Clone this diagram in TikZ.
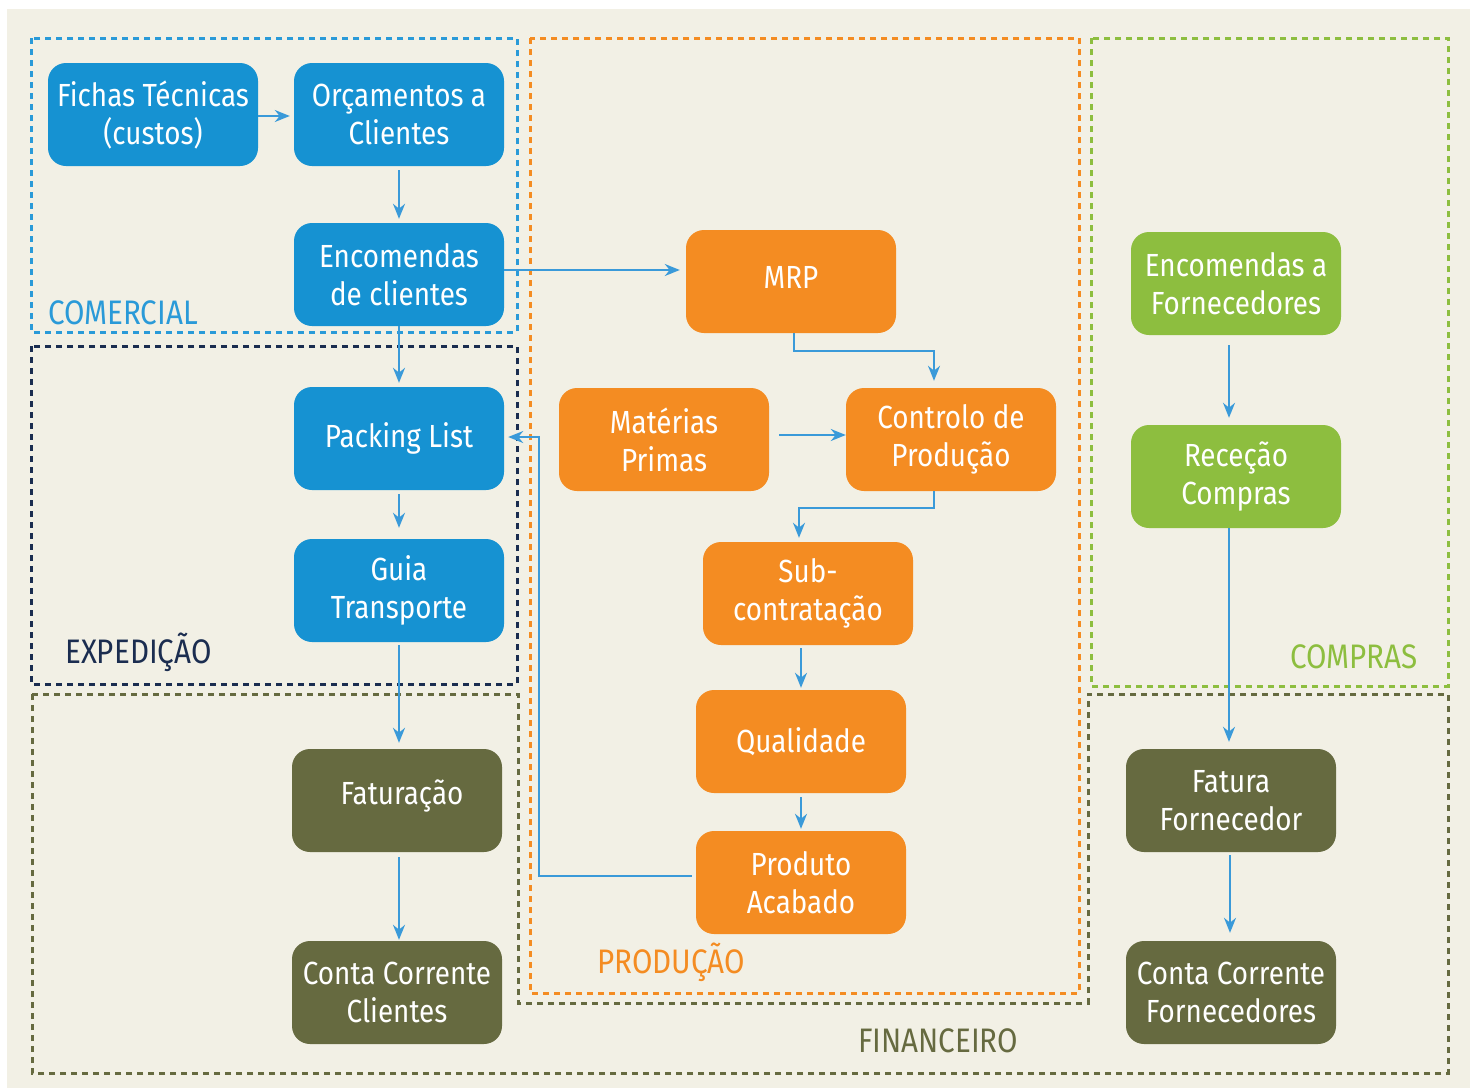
\documentclass[tikz,border=0pt]{standalone}
\usepackage{fontspec}
\setmainfont{Fira Sans}[FakeStretch=0.87]
\usetikzlibrary{arrows.meta}
\definecolor{bgc}{RGB}{242,240,229}
\definecolor{cblue}{RGB}{22,146,210}
\definecolor{corange}{RGB}{244,140,34}
\definecolor{cgreen}{RGB}{141,190,63}
\definecolor{colive}{RGB}{102,106,64}
\definecolor{cnavy}{RGB}{27,45,80}
\definecolor{carrow}{RGB}{58,154,217}
\definecolor{cframe}{RGB}{42,154,216}
\tikzset{
  box/.style={rectangle, rounded corners=18pt, minimum width=210pt, minimum height=103pt,
    text=white, align=center, inner sep=0pt, font=\fontsize{32}{38}\selectfont},
  bbox/.style={box, fill=cblue},
  obox/.style={box, fill=corange},
  gbox/.style={box, fill=cgreen},
  fbox/.style={box, fill=colive},
  flow/.style={draw=carrow, line width=2pt, -{Stealth[length=15pt,width=12pt]}},
  region/.style={line width=3pt, dash pattern=on 6pt off 5pt},
  rlabel/.style={font=\fontsize{34}{40}\selectfont, inner sep=0pt}
}
\begin{document}
\begin{tikzpicture}[x=1pt,y=-1pt]
\useasboundingbox (0,0) rectangle (1477,1088);
\fill[white] (0,0) rectangle (1477,1088);
\fill[bgc] (7,9) rectangle (1470,1088);
% regions
\draw[region, cframe] (31,38) rectangle (517,332);
\draw[region, cnavy] (31,346) rectangle (517,684);
\draw[region, corange] (530,38) rectangle (1079,993);
\draw[region, cgreen] (1091,38) rectangle (1448,686);
\draw[region, colive] (32,694) -- (518,694) -- (518,1003) -- (1088,1003) -- (1088,694) -- (1448,694) -- (1448,1073) -- (32,1073) -- cycle;
\node[rlabel, text=cframe, anchor=base west] (lcom) at (48,324) {COMERCIAL};
\node[rlabel, text=cnavy, anchor=base west] (lexp) at (65,663) {EXPEDIÇÃO};
\node[rlabel, text=corange, anchor=base west] (lprod) at (597,973) {PRODUÇÃO};
\node[rlabel, text=cgreen, anchor=base east] (lcomp) at (1418,668) {COMPRAS};
\node[rlabel, text=colive, anchor=base west] (lfin) at (858,1052) {FINANCEIRO};
% boxes
\node[bbox] (fichas) at (153,114.5) {Fichas Técnicas\\(custos)};
\node[bbox] (orc) at (399,114.5) {Orçamentos a\\Clientes};
\node[bbox] (enc) at (399,274.5) {Encomendas\\de clientes};
\node[bbox] (pack) at (399,438.5) {Packing List};
\node[bbox] (guia) at (399,590.5) {Guia\\Transporte};
\node[fbox] (fat) at (397,800.5) {\raisebox{16pt}{\hspace{10pt}Faturação}};
\node[fbox] (ccc) at (397,992.5) {Conta Corrente\\Clientes};
\node[obox] (mrp) at (791,281.5) {\raisebox{8pt}{MRP}};
\node[obox] (mat) at (664,439.5) {Matérias\\Primas};
\node[obox] (ctrl) at (951,439.5) {Controlo de\\Produção};
\node[obox] (sub) at (808,593.5) {Sub-\\contratação};
\node[obox] (qual) at (801,741.5) {Qualidade};
\node[obox] (prod) at (801,882.5) {Produto\\Acabado};
\node[gbox] (encf) at (1236,283.5) {Encomendas a\\Fornecedores};
\node[gbox] (rec) at (1236,476.5) {Receção\\Compras};
\node[fbox] (fatf) at (1231,800.5) {Fatura\\Fornecedor};
\node[fbox] (ccf) at (1231,992.5) {Conta Corrente\\Fornecedores};
% connectors
\coordinate (pc) at (539,876);
\draw[flow] (fichas.east |- 0,116) -- ([xshift=-4pt]orc.west |- 0,116);
\draw[flow] ([yshift=-4pt]orc.south) -- ([yshift=4pt]enc.north);
\draw[flow] (enc.east |- 0,270) -- ([xshift=-6pt]mrp.west |- 0,270);
\draw[flow] (enc.south) -- ([yshift=4pt]pack.north);
\draw[flow] ([xshift=3pt]mrp.south) -- ++(0,18) -| ([xshift=-17pt,yshift=7pt]ctrl.north);
\draw[flow] ([xshift=10pt]mat.east |- 0,435) -- (ctrl.west |- 0,435);
\draw[flow] ([xshift=-17pt]ctrl.south) -- ++(0,17) -| ([xshift=-9pt,yshift=4pt]sub.north);
\draw[flow] ([xshift=-7pt,yshift=-3pt]sub.south) -- ([yshift=2pt]qual.north);
\draw[flow] ([yshift=-4pt]qual.south) -- ([yshift=2pt]prod.north);
\draw[flow] ([xshift=-4pt]prod.west |- pc) -- (pc) |- ([xshift=4pt]pack.east |- 0,437);
\draw[flow] ([yshift=-4pt]pack.south) -- ([yshift=11pt]guia.north);
\draw[flow] ([yshift=-3pt]guia.south) -- ([xshift=2pt,yshift=6pt]fat.north);
\draw[flow] ([xshift=2pt,yshift=-5pt]fat.south) -- ([xshift=2pt,yshift=1pt]ccc.north);
\draw[flow] ([xshift=-7pt,yshift=-10pt]encf.south) -- ([xshift=-7pt,yshift=7pt]rec.north);
\draw[flow] ([xshift=-7pt]rec.south) -- ([xshift=-2pt,yshift=7pt]fatf.north);
\draw[flow] ([xshift=-1pt,yshift=-3pt]fatf.south) -- ([xshift=-1pt,yshift=8pt]ccf.north);
\end{tikzpicture}
\end{document}
